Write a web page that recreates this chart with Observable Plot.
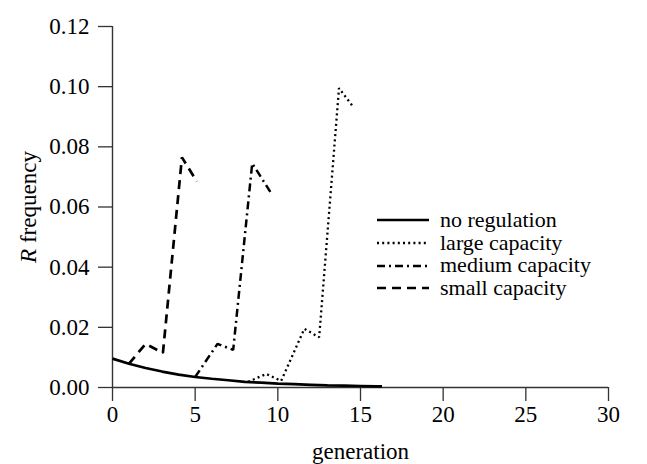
<!DOCTYPE html>
<html>
<head>
<meta charset="utf-8">
<script src="https://cdn.jsdelivr.net/npm/d3@7"></script>
<script src="https://cdn.jsdelivr.net/npm/@observablehq/plot@0.6"></script>
<style>
  html, body { margin: 0; padding: 0; background: #fff; }
  #wrap { position: relative; width: 647px; height: 464px; font-family: "Liberation Serif", "Times New Roman", serif; }
  #legend { position: absolute; left: 376px; top: 209px; font-size: 22px; line-height: 22.7px; color: #000; }
  #legend .row { display: flex; align-items: center; height: 22.7px; line-height: 22.7px; }
  #legend svg { margin-right: 10px; }
</style>
</head>
<body>
<div id="wrap"></div>
<script>
// ---- data ----
const seriesNames = ["no regulation", "large capacity", "medium capacity", "small capacity"];

const genNone  = [0, 1, 2, 3, 4, 5, 6, 7, 8, 9, 10, 11, 12, 13, 14, 15, 16, 16.3];
const freqNone = [0.0096, 0.0079, 0.0065, 0.0053, 0.0043, 0.0035, 0.0029, 0.0024, 0.0019, 0.0016, 0.0013, 0.0011, 0.0009, 0.0007, 0.0006, 0.0005, 0.0004, 0.0004];

const genLarge  = [8.2, 9.3, 10.2, 11.6, 12.5, 13.7, 14.6];
const freqLarge = [0.0019, 0.0045, 0.0022, 0.0195, 0.0167, 0.0995, 0.0930];

const genMedium  = [5.0, 6.35, 7.3, 8.45, 9.55];
const freqMedium = [0.0035, 0.0145, 0.0125, 0.0745, 0.0650];

const genSmall  = [1.0, 2.0, 3.05, 4.2, 5.1];
const freqSmall = [0.0079, 0.0145, 0.0115, 0.0765, 0.0685];

const xTicks = [0, 5, 10, 15, 20, 25, 30];
const yTicks = [0, 0.02, 0.04, 0.06, 0.08, 0.10, 0.12];

// styles per series
const dashes = ["none", "2,3.2", "8,4,2,4", "9,6"];
const widths = [2.7, 2.3, 2.5, 2.7];

const toRows = (g, f) => g.map((x, i) => ({x, y: f[i]}));
const series = [
  toRows(genNone, freqNone),
  toRows(genLarge, freqLarge),
  toRows(genMedium, freqMedium),
  toRows(genSmall, freqSmall)
];

const font = '"Liberation Serif", "Times New Roman", serif';

const chart = Plot.plot({
  width: 647,
  height: 464,
  marginLeft: 112,
  marginRight: 39,
  marginTop: 26,
  marginBottom: 77,
  style: {fontFamily: font, fontSize: "23px", color: "#000", background: "#fff"},
  x: {domain: [0, 30]},
  y: {domain: [0, 0.12]},
  marks: [
    Plot.axisX({ticks: xTicks, tickSize: 14, tickPadding: 4, tickFormat: d => String(d),
      label: "generation", labelAnchor: "center", labelArrow: "none", labelOffset: 71, stroke: "#333", strokeWidth: 1.3}),
    Plot.axisY({ticks: yTicks, tickSize: 14, tickPadding: 9, tickFormat: d3.format(".2f"),
      label: "R frequency", labelAnchor: "center", labelArrow: "none", labelOffset: 93, stroke: "#333", strokeWidth: 1.3}),
    Plot.ruleY([0], {stroke: "#333", strokeWidth: 1.4}),
    Plot.ruleX([0], {y1: 0, y2: 0.12, stroke: "#333", strokeWidth: 1.4}),
    ...series.map((rows, i) => Plot.line(rows, {
      x: "x", y: "y", stroke: "#000", strokeWidth: widths[i],
      strokeDasharray: dashes[i], strokeLinejoin: "miter", strokeLinecap: "butt"
    }))
  ]
});

document.getElementById("wrap").appendChild(chart);

// italic R in y label
d3.select(chart).selectAll('g[aria-label="y-axis label"] text').each(function() {
  const t = d3.select(this);
  t.text(null);
  t.append("tspan").attr("font-style", "italic").text("R");
  t.append("tspan").text(" frequency");
});

// legend overlay
const legend = d3.select("#wrap").append("div").attr("id", "legend");
seriesNames.forEach((name, i) => {
  const row = legend.append("div").attr("class", "row");
  const sw = row.append("svg").attr("width", 54).attr("height", 10);
  sw.append("line").attr("x1", 1).attr("x2", 53).attr("y1", 5).attr("y2", 5)
    .attr("stroke", "#000").attr("stroke-width", widths[i])
    .attr("stroke-dasharray", dashes[i] === "none" ? null : dashes[i]);
  row.append("span").text(name);
});
</script>
</body>
</html>
